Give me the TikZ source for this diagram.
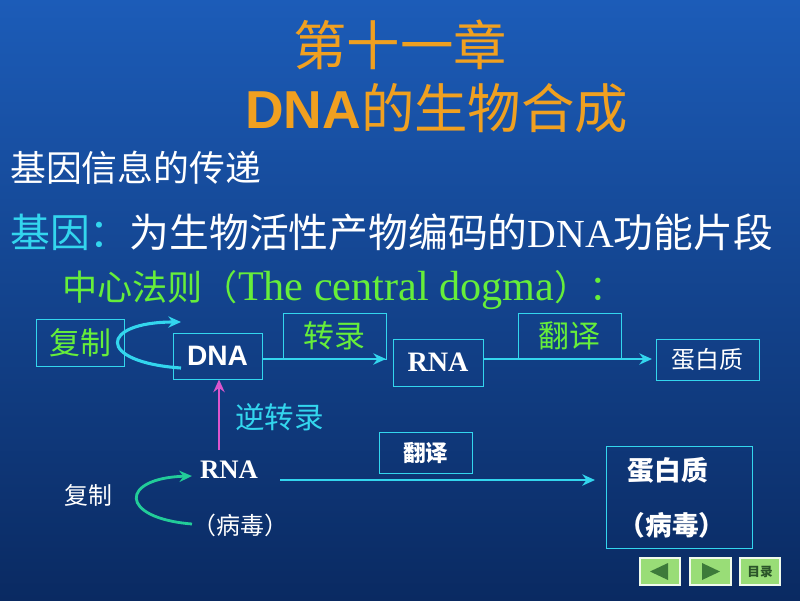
\documentclass[tikz,border=0pt]{standalone}
\usepackage{fontspec}
\setmainfont{Liberation Serif}
\newfontfamily\cjk{Noto Sans CJK SC}
\newfontfamily\arialf{Liberation Sans}
\usetikzlibrary{arrows.meta}
\definecolor{bgtop}{HTML}{1C5CB8}
\definecolor{bgbot}{HTML}{0A2A62}
\definecolor{titleor}{HTML}{F0A020}
\definecolor{cyanl}{HTML}{33D6EE}
\definecolor{greent}{HTML}{66EE3A}
\definecolor{pinka}{HTML}{DD55CC}
\definecolor{tealc}{HTML}{22CC99}
\definecolor{btng}{HTML}{99DD77}
\definecolor{btnd}{HTML}{3D7A3A}
\tikzset{
  bx/.style={draw=cyanl, line width=0.6pt, inner sep=0pt},
  arr/.style={draw=cyanl, line width=2pt, -{Stealth[length=9pt,width=8pt]}},
  txt/.style={inner sep=0pt},
  btn/.style={fill=btng, draw=white!85!btng, line width=1pt, inner sep=0pt}
}
\begin{document}
\begin{tikzpicture}[x=0.025cm,y=-0.025cm]
\shade[top color=bgtop, bottom color=bgbot] (0,0) rectangle (800,600);
\useasboundingbox (0,0) rectangle (800,600);
% title
\node[txt, text=titleor, font=\cjk\fontsize{38}{40}\selectfont] (t1) at (400,45) {第十一章};
\node[txt, text=titleor, anchor=west] (t2) at (245,108) {\arialf\bfseries\fontsize{38}{40}\selectfont DNA\cjk\mdseries 的生物合成};
% lines
\node[txt, text=white, anchor=west, font=\cjk\fontsize{25.5}{28}\selectfont] (l1) at (10,168) {基因信息的传递};
\node[txt, anchor=west] (l2) at (10,232) {\fontsize{28.3}{30}\selectfont\cjk\textcolor{cyanl}{基因：}\textcolor{white}{为生物活性产物编码的{\rmfamily DNA}功能片段}};
\node[txt, anchor=west, text=greent] (l3) at (62,290) {{\cjk\fontsize{25}{28}\selectfont 中心法则（}{\fontsize{30}{32}\selectfont The central dogma}{\cjk\fontsize{25}{28}\selectfont ）：}};
% boxes upper
\node[bx, minimum width=88*0.7113pt, minimum height=47*0.7113pt, text=greent, font=\cjk\fontsize{22}{24}\selectfont] (fz) at (80,342.5) {复制};
\node[bx, minimum width=89*0.7113pt, minimum height=46*0.7113pt, text=white, font=\arialf\bfseries\fontsize{20}{22}\selectfont] (dna) at (217.5,356) {DNA};
\node[bx, minimum width=103*0.7113pt, minimum height=46*0.7113pt, text=greent, font=\cjk\fontsize{22}{24}\selectfont] (zl) at (334.5,336) {转录};
\node[bx, minimum width=90*0.7113pt, minimum height=47*0.7113pt, text=white, font=\bfseries\fontsize{20}{22}\selectfont] (rna) at (438,362.5) {RNA};
\node[bx, minimum width=103*0.7113pt, minimum height=46*0.7113pt, text=greent, font=\cjk\fontsize{22}{24}\selectfont] (fy) at (569.5,336) {翻译};
\node[bx, minimum width=103*0.7113pt, minimum height=41*0.7113pt, text=white, font=\cjk\fontsize{17}{20}\selectfont] (dbz) at (707.5,359.5) {蛋白质};
\coordinate (a1e) at (386,359);
\coordinate (a2e) at (652,359);
\draw[arr] (dna.east |- a1e) -- (a1e);
\draw[arr] (rna.east |- a2e) -- (a2e);
\coordinate (c1s) at (181,368);
\coordinate (c1e) at (181,322);
\draw[arr, line width=2.2pt] (c1s) .. controls (95,362) and (100,322) .. (c1e);
% reverse transcription
\node[txt, text=white, font=\bfseries\fontsize{19}{22}\selectfont] (rna2) at (229,470) {RNA};
\draw[draw=pinka, line width=2pt, -{Stealth[length=9pt,width=8pt]}] (219,450) -- (dna.south -| 219,0);
\node[txt, text=cyanl, anchor=west, font=\cjk\fontsize{21}{24}\selectfont] (nzl) at (235,417) {逆转录};
\node[txt, text=white, font=\cjk\fontsize{17}{20}\selectfont] (fz2) at (88,495) {复制};
\node[txt, text=white, anchor=west, font=\cjk\fontsize{17}{20}\selectfont] (bd) at (192,525) {（病毒）};
\coordinate (c2s) at (192,524);
\coordinate (c2e) at (192,476);
\draw[draw=tealc, line width=2pt, -{Stealth[length=9pt,width=8pt]}] (c2s) .. controls (118,518) and (120,478) .. (c2e);
\node[bx, minimum width=93*0.7113pt, minimum height=41*0.7113pt, text=white, font=\cjk\bfseries\fontsize{16}{20}\selectfont] (fy2) at (425.5,452.5) {翻译};
\coordinate (a3s) at (280,480);
\coordinate (a3e) at (595,480);
\draw[arr] (a3s) -- (a3e);
\node[bx, minimum width=146*0.7113pt, minimum height=102*0.7113pt] (dbz2) at (679,497) {};
\node[txt, text=white, font=\cjk\bfseries\fontsize{19}{22}\selectfont] (dbz2a) at (668,470) {蛋白质};
\node[txt, text=white, font=\cjk\bfseries\fontsize{19}{22}\selectfont] (dbz2b) at (672,525) {（病毒）};
% buttons
\node[btn, minimum width=40*0.7113pt, minimum height=27*0.7113pt] (b1) at (660,571.5) {};
\node[btn, minimum width=41*0.7113pt, minimum height=27*0.7113pt] (b2) at (710.5,571.5) {};
\node[btn, minimum width=40*0.7113pt, minimum height=27*0.7113pt, text=btnd!70!black, font=\cjk\bfseries\fontsize{9}{10}\selectfont] (b3) at (760,571.5) {目录};
\fill[btnd] (650,571.5) -- (668,563) -- (668,580) -- cycle;
\fill[btnd] (720,571.5) -- (702,563) -- (702,580) -- cycle;
\end{tikzpicture}
\end{document}
